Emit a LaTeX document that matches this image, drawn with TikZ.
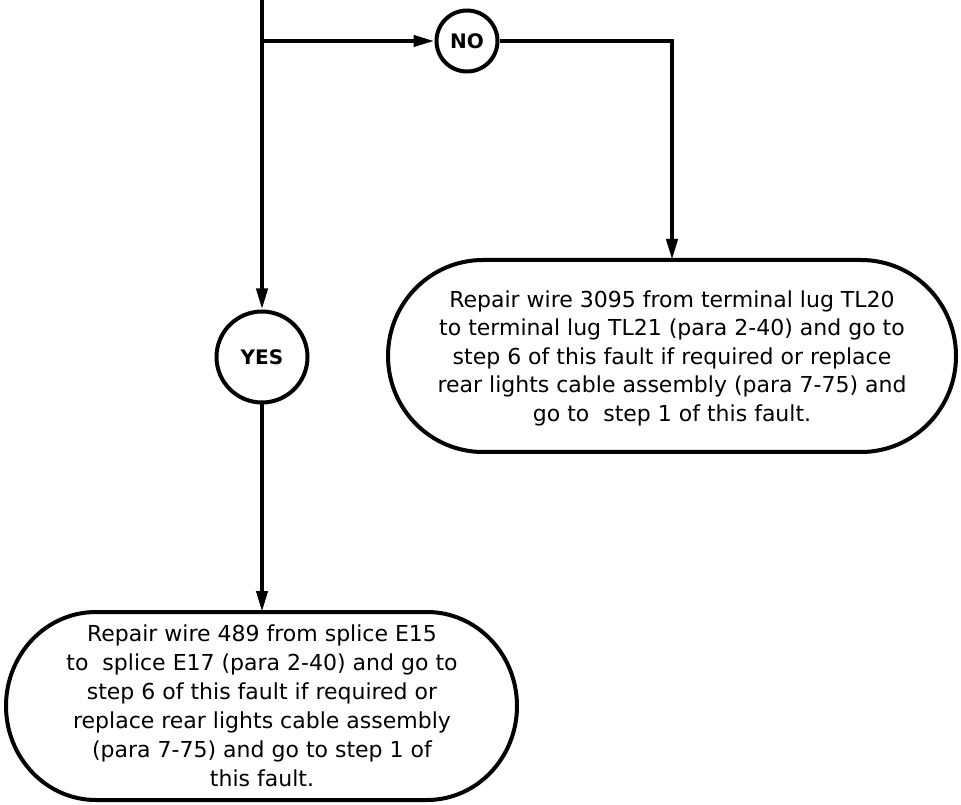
\documentclass[tikz,border=0pt]{standalone}
\usepackage{fontspec}
\setmainfont{DejaVu Sans}
\usetikzlibrary{arrows.meta,calc}
\tikzset{
  conn/.style={line width=4pt},
  arr/.style={conn,-{Triangle[length=21pt,width=11pt]}},
  circ/.style={circle,draw,line width=4pt,inner sep=0pt,font=\bfseries\fontsize{20pt}{20pt}\selectfont},
  rtext/.style={inner sep=0pt,align=center,font=\fontsize{22pt}{28.5pt}\selectfont},
  btext/.style={inner sep=0pt,align=center,font=\fontsize{22pt}{29pt}\selectfont},
  outline/.style={line width=4pt,line join=round},
}
\begin{document}
\begin{tikzpicture}[x=1pt,y=1pt]
\useasboundingbox (0,0) rectangle (961,804);
% coordinates: y = 804 - y_img
\coordinate (top) at (262,804);
\coordinate (br) at (262,763);
\node[circ,minimum size=61pt] (no) at (467,763) {NO};
\node[circ,minimum size=91pt] (yes) at (262,447) {YES};
% right box (x 388..956, y_img 260..452)
\node[rtext] (rbox) at (672,446)
 {Repair wire 3095 from terminal lug TL20\\to terminal lug TL21 (para 2-40) and go to\\step 6 of this fault if required or replace\\rear lights cable assembly (para 7-75) and\\go to\ \ step 1 of this fault.};
\coordinate (rtop) at (672,544);
\draw[outline] (483,544) -- (861,544)
  arc[start angle=90,end angle=-90,x radius=95,y radius=96]
  -- (483,352)
  arc[start angle=270,end angle=90,x radius=95,y radius=96] -- cycle;
% bottom box (x 6..517, y_img 612..800)
\node[btext] (bbox) at (262,98.5)
 {Repair wire 489 from splice E15\\to\ \ splice E17 (para 2-40) and go to\\step 6 of this fault if required or\\replace rear lights cable assembly\\(para 7-75) and go to step 1 of\\this fault.};
\coordinate (btop) at (262,192);
\draw[outline] (96,192) -- (427,192)
  arc[start angle=90,end angle=-90,x radius=90,y radius=94]
  -- (96,4)
  arc[start angle=270,end angle=90,x radius=90,y radius=94] -- cycle;
% connectors
\draw[arr] (top) -- (yes.north);
\draw[arr] (br) -- (no.west);
\draw[arr] (no.east) -| (rtop);
\draw[arr] (yes.south) -- (btop);
\end{tikzpicture}
\end{document}
